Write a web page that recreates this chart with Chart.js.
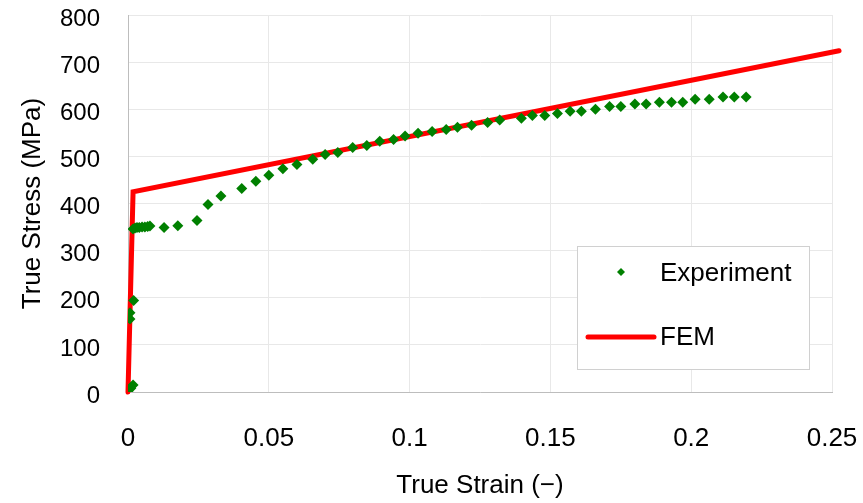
<!DOCTYPE html>
<html>
<head>
<meta charset="utf-8">
<script src="https://cdn.jsdelivr.net/npm/chart.js@4/dist/chart.umd.min.js"></script>
<style>
  html, body { margin: 0; padding: 0; background: #fff; }
  #wrap { width: 863px; height: 503px; }
</style>
</head>
<body>
<div id="wrap"><canvas id="ss"></canvas></div>
<script>
// experiment points
var expStrain = [0, 0.001, 0.0018, 0.0007, 0.0007, 0.002,
  0.0018, 0.0025, 0.0032, 0.004, 0.005, 0.006, 0.007, 0.0078,
  0.0128, 0.0177, 0.0245, 0.0284, 0.033, 0.0404, 0.0454, 0.05, 0.055, 0.06,
  0.0656, 0.07, 0.0745, 0.0798, 0.0848, 0.0894, 0.0943, 0.0984, 0.103, 0.108,
  0.113, 0.117, 0.122, 0.1277, 0.132, 0.1397, 0.1436, 0.148, 0.1525, 0.157,
  0.161, 0.166, 0.171, 0.175, 0.18, 0.184, 0.1887, 0.193, 0.197, 0.2014,
  0.2064, 0.2113, 0.2153, 0.2195];
var expStress = [2, 8, 15, 155, 168, 194,
  346, 348, 349, 349, 350, 350, 351, 352,
  349, 353, 364, 398, 416, 432, 447, 460, 474, 483,
  494, 504, 508, 519, 523, 532, 536, 543, 549, 553,
  557, 562, 566, 572, 577, 581, 587, 587, 591, 596,
  596, 600, 606, 606, 611, 611, 615, 615, 615, 621,
  621, 626, 626, 626];

var femStrain = [0, 0.0018, 0.2525];
var femStress = [0, 425, 724];

var xTickValues = [0, 0.05, 0.1, 0.15, 0.2, 0.25];
var xTickLabels = ['0', '0.05', '0.1', '0.15', '0.2', '0.25'];
var yTickValues = [0, 100, 200, 300, 400, 500, 600, 700, 800];
var yTickLabels = ['0', '100', '200', '300', '400', '500', '600', '700', '800'];

var FONT = 'Liberation Sans, Arial, sans-serif';

function toPoints(xs, ys) {
  return xs.map(function (x, i) { return { x: x, y: ys[i] }; });
}

// legend drawn inside the plot, lower right
var boxLegend = {
  id: 'boxLegend',
  afterDraw: function (chart) {
    var c = chart.ctx;
    var a = chart.chartArea;
    var bx = a.right - 255, by = a.top + 231, bw = 232, bh = 123;
    c.save();
    c.fillStyle = '#fff';
    c.fillRect(bx, by, bw, bh);
    c.strokeStyle = '#d0d0d0';
    c.lineWidth = 1;
    c.strokeRect(bx + 0.5, by + 0.5, bw, bh);

    var ds = chart.data.datasets;
    // experiment marker
    var mx = bx + 44, my = by + 26;
    c.fillStyle = ds[0].backgroundColor;
    c.beginPath();
    c.moveTo(mx, my - 4); c.lineTo(mx + 4, my); c.lineTo(mx, my + 4); c.lineTo(mx - 4, my);
    c.closePath();
    c.fill();
    // FEM line
    c.strokeStyle = ds[1].borderColor;
    c.lineWidth = 5;
    c.lineCap = 'round';
    c.beginPath();
    c.moveTo(bx + 11, by + 91);
    c.lineTo(bx + 77, by + 91);
    c.stroke();

    c.fillStyle = '#000';
    c.font = '26px ' + FONT;
    c.textBaseline = 'middle';
    c.textAlign = 'left';
    c.fillText(ds[0].label, bx + 83, by + 28);
    c.fillText(ds[1].label, bx + 83, by + 92);
    c.restore();
  }
};

var ctx = document.getElementById('ss');
var chart = new Chart(ctx, {
  type: 'scatter',
  data: {
    datasets: [{
      label: 'Experiment',
      data: toPoints(expStrain, expStress),
      pointStyle: 'rectRot',
      pointRadius: 5.5,
      backgroundColor: '#008000',
      borderColor: '#008000',
      borderWidth: 0,
      showLine: false
    }, {
      label: 'FEM',
      data: toPoints(femStrain, femStress),
      showLine: true,
      pointRadius: 0,
      borderColor: '#ff0000',
      backgroundColor: '#ff0000',
      borderWidth: 5,
      borderCapStyle: 'round',
      borderJoinStyle: 'miter',
      clip: false
    }]
  },
  options: {
    responsive: true,
    maintainAspectRatio: false,
    animation: false,
    layout: { padding: { top: 15, right: 31, left: 0, bottom: 0 } },
    plugins: {
      legend: { display: false },
      tooltip: { enabled: false }
    },
    scales: {
      x: {
        type: 'linear',
        min: 0,
        max: 0.25,
        afterBuildTicks: function (s) { s.ticks = xTickValues.map(function (v) { return { value: v }; }); },
        afterFit: function (s) {
          s.height = 111;
          s.paddingLeft = 0; s.paddingRight = 0;
        },
        grid: { color: '#e8e8e8', drawTicks: false },
        border: { color: '#bdbdbd', width: 1 },
        ticks: {
          padding: 31,
          color: '#000',
          font: { family: FONT, size: 26 },
          maxRotation: 0,
          callback: function (v, i) { return xTickLabels[i]; }
        },
        title: {
          display: true,
          text: 'True Strain (−)',
          color: '#000',
          font: { family: FONT, size: 26 },
          padding: { top: 0, bottom: 2 }
        }
      },
      y: {
        type: 'linear',
        min: 0,
        max: 800,
        afterBuildTicks: function (s) { s.ticks = yTickValues.map(function (v) { return { value: v }; }); },
        afterFit: function (s) {
          s.width = 128;
          s.paddingTop = 0; s.paddingBottom = 0;
        },
        grid: { color: '#e8e8e8', drawTicks: false },
        border: { color: '#bdbdbd', width: 1 },
        ticks: {
          padding: 28,
          labelOffset: 4,
          color: '#000',
          font: { family: FONT, size: 24 },
          callback: function (v, i) { return yTickLabels[i]; }
        },
        title: {
          display: true,
          text: 'True Stress (MPa)',
          color: '#000',
          font: { family: FONT, size: 26 },
          padding: { top: 17, bottom: 0 }
        }
      }
    }
  },
  plugins: [boxLegend]
});
</script>
</body>
</html>
